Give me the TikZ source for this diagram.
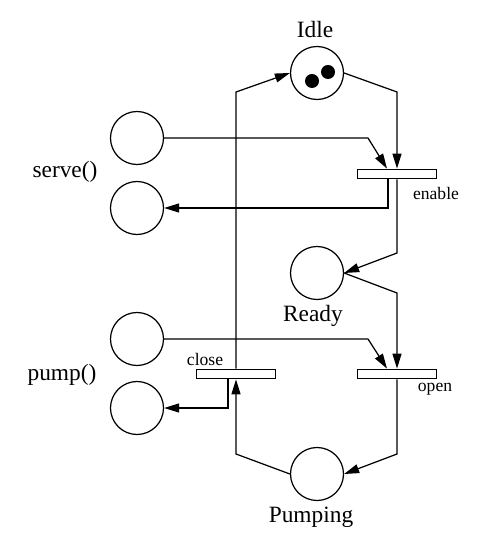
\documentclass[tikz,border=0pt]{standalone}
\usepackage{fontspec}
\setmainfont{Liberation Serif}
\usetikzlibrary{arrows.meta}

\begin{document}
\begin{tikzpicture}[>={Triangle[length=3mm,width=1.8mm]}, x=0.2mm, y=-0.2mm, line width=0.7pt,
		place/.style={draw, circle, minimum size=10.6mm, inner sep=0pt},
		trans/.style={draw, rectangle, minimum width=15.8mm, minimum height=1.9mm, inner sep=0pt},
		token/.style={fill, circle, minimum size=2.8mm, inner sep=0pt},
		biglbl/.style={font=\fontsize{13.3}{16}\selectfont, inner sep=0pt},
		smalllbl/.style={font=\fontsize{10}{12}\selectfont, inner sep=0pt}]
		\useasboundingbox (0,0) rectangle (492,544);
		% places
		\node[place] (idle) at (317,73) {};
		\node[token] (tokA) at (312,81) {};
		\node[token] (tokB) at (328,72) {};
		\node[place] (ready) at (317,273) {};
		\node[place] (pumping) at (317,474) {};
		\node[place] (serveIn) at (137,138) {};
		\node[place] (serveOut) at (137,208) {};
		\node[place] (pumpIn) at (137,339) {};
		\node[place] (pumpOut) at (137,408) {};
		% transitions
		\node[trans] (enable) at (397,174) {};
		\node[trans] (open) at (397,374) {};
		\node[trans] (close) at (236,374) {};
		% labels
		\node[biglbl] (idleLbl) at (315,30) {Idle};
		\node[biglbl] (readyLbl) at (313,316) {Ready};
		\node[biglbl] (pumpingLbl) at (311,517) {Pumping};
		\node[biglbl] (serveLbl) at (65,172) {serve()};
		\node[biglbl] (pumpLbl) at (62,375) {pump()};
		\node[smalllbl] (enableLbl) at (436,193) {enable};
		\node[smalllbl] (openLbl) at (435,389) {open};
		\node[smalllbl] (closeLbl) at (205,359) {close};
		% arcs
		\draw[->] (idle.east) -- (397,92) -- (enable.north);
		\draw[->] (serveIn) -- (368,138) -- ([xshift=-2mm]enable.north);
		\draw[->] ([xshift=-1.8mm]enable.south) |- (serveOut);
		\draw[->] (enable.south) -- (397,253) -- (ready.east);
		\draw[->] (ready.east) -- (397,293) -- (open.north);
		\draw[->] (pumpIn) -- (368,339) -- ([xshift=-2mm]open.north);
		\draw[->] (open.south) -- (397,454) -- (pumping.east);
		\draw[->] (pumping.west) -- (236,454) -- (close.south);
		\draw[->] (close.north) -- (236,92) -- (idle.west);
		\draw[->] ([xshift=-1.6mm]close.south) |- (pumpOut);
	\end{tikzpicture}
\end{document}
